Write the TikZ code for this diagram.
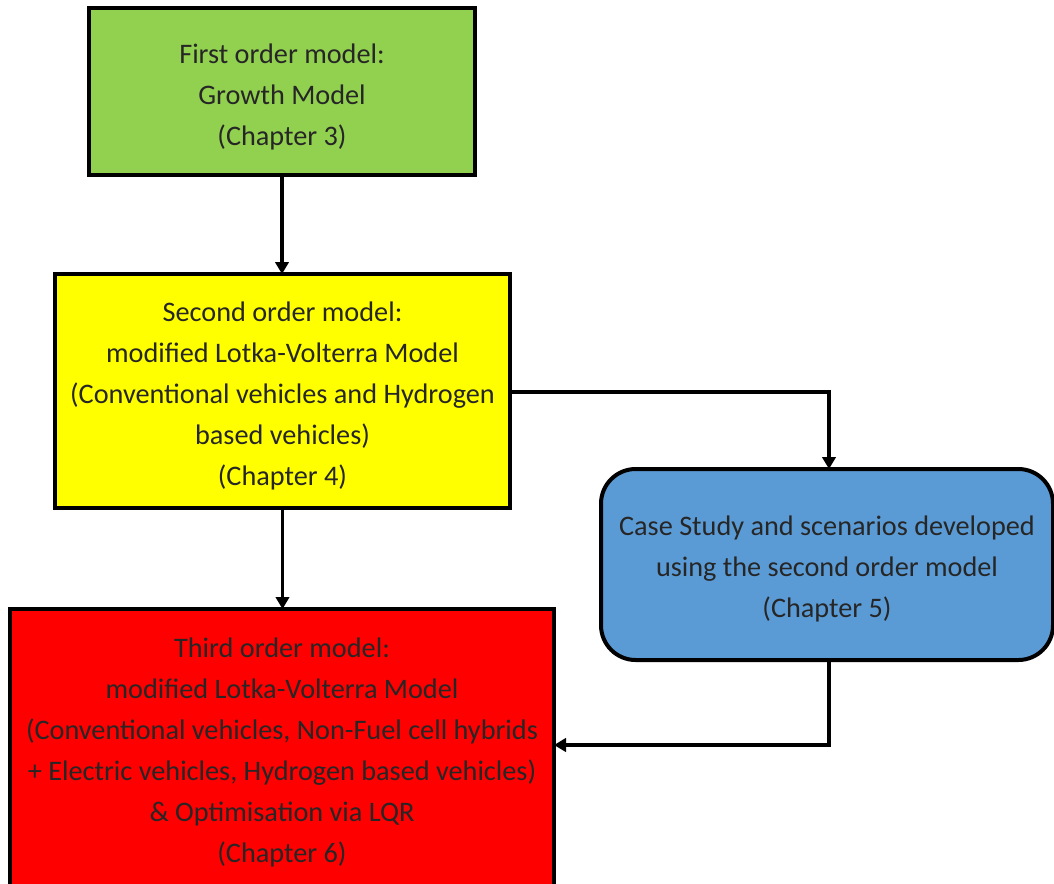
\documentclass[tikz,border=0pt]{standalone}
\usepackage{fontspec}
\setmainfont{Carlito}
\usetikzlibrary{arrows.meta}
\definecolor{boxgreen}{HTML}{92D050}
\definecolor{boxyellow}{HTML}{FFFF00}
\definecolor{boxblue}{HTML}{5B9BD5}
\definecolor{boxred}{HTML}{FF0000}
\tikzset{
  box/.style={draw=black, line width=3pt, inner sep=0pt, outer sep=0pt},
  boxtext/.style={align=center, inner sep=0pt, yshift=-3pt,
    font=\fontsize{21.2pt}{30.75pt}\selectfont, text=black!85},
  conn/.style={line width=2.5pt, -{Triangle[length=9pt,width=10pt]}}
}
\begin{document}
\begin{tikzpicture}[x=0.75pt,y=-0.75pt]
\useasboundingbox (0,0) rectangle (1054,883);
\clip (0,0) rectangle (1054,883);
\node[box, fill=boxgreen, minimum width=289.5pt, minimum height=125.25pt,
  label={[boxtext, yshift=-1pt]center:{First order model:\\Growth Model\\(Chapter 3)}}] (g) at (282,91.5) {};
\node[box, fill=boxyellow, minimum width=341.25pt, minimum height=175.5pt,
  label={[boxtext, yshift=-1pt]center:{Second order model:\\modified Lotka-Volterra Model\\(Conventional vehicles and Hydrogen\\based vehicles)\\(Chapter 4)}}] (y) at (282.5,391) {};
\node[box, fill=boxblue, rounded corners=26pt, minimum width=339pt, minimum height=143.25pt,
  label={[boxtext]center:{Case Study and scenarios developed\\using the second order model\\(Chapter 5)}}] (b) at (827,564.5) {};
\node[box, fill=boxred, minimum width=408pt, minimum height=214.5pt,
  label={[boxtext, yshift=3pt]center:{Third order model:\\modified Lotka-Volterra Model\\(Conventional vehicles, Non-Fuel cell hybrids\\+ Electric vehicles, Hydrogen based vehicles)\\\& Optimisation via LQR\\(Chapter 6)}}] (r) at (282,752) {};
\coordinate (c1) at (829,392);
\coordinate (c2) at (829,745);
\draw[conn] (g.south) -- (g.south |- y.north);
\draw[conn] (y.south) -- (y.south |- r.north);
\draw[conn] (y.east |- c1) -- (c1) -- (c1 |- b.north);
\draw[conn] (c2 |- b.south) -- (c2) -- (r.east |- c2);
\end{tikzpicture}
\end{document}
